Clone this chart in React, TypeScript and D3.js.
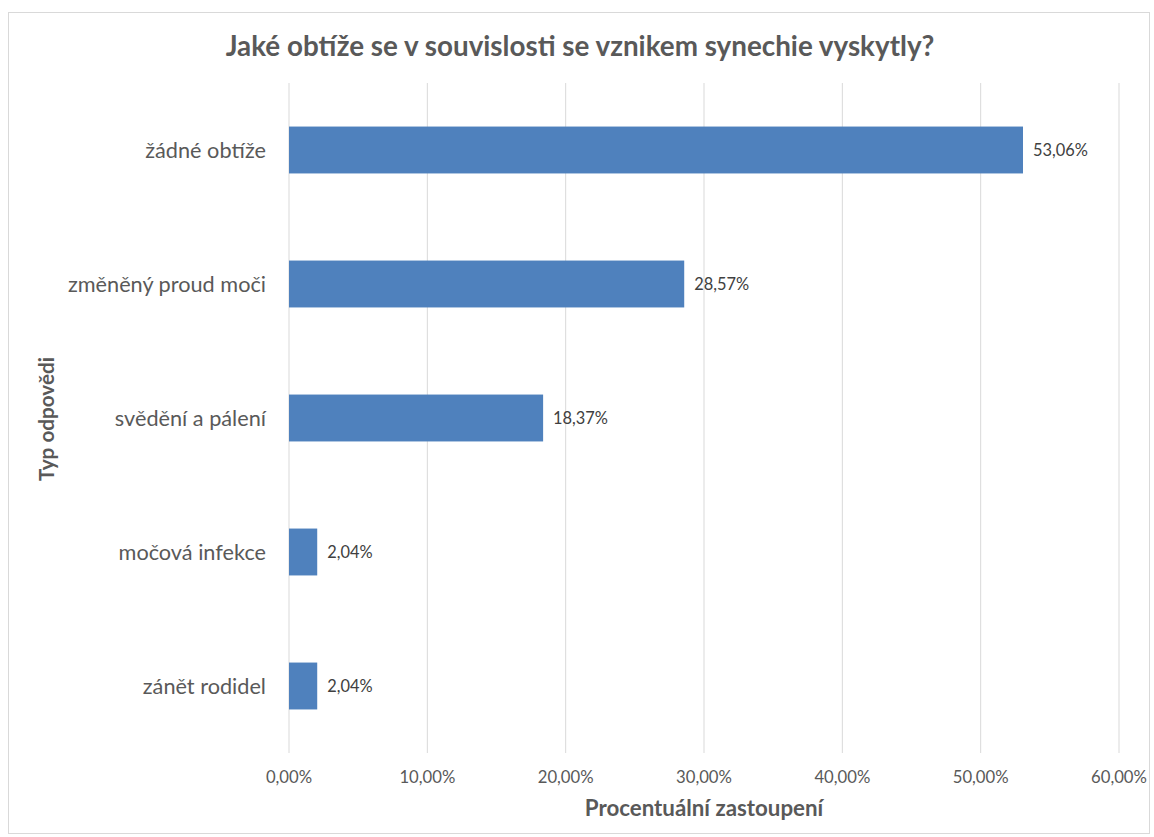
import React from "react";
import * as d3 from "d3";

const categories = ["žádné obtíže", "změněný proud moči", "svědění a pálení", "močová infekce", "zánět rodidel"];
const values = [53.06, 28.57, 18.37, 2.04, 2.04];
const ticks = [0, 10, 20, 30, 40, 50, 60];

const W = 1154, H = 837;
const FONT = "Lato, 'Open Sans', sans-serif";
const fmt = (v: number) => v.toFixed(2).replace(".", ",") + "%";

export default function App() {
  const x = d3.scaleLinear().domain([0, 60]).range([289, 1119]);
  const y = d3.scaleBand<string>().domain(categories).range([83, 753]).paddingInner(0.65).paddingOuter(0.325);
  return (
    <svg width={W} height={H} style={{ position: "absolute", left: 0, top: 0 }}>
      <rect x={0} y={0} width={W} height={H} fill="#fff" />
      <rect x={8.5} y={12.5} width={1141} height={821} fill="#fff" stroke="#d9d9d9" />
      <text x={580} y={56} textAnchor="middle" fontFamily={FONT} fontWeight="bold" fontSize={27.8} fill="#595959">
        Jaké obtíže se v souvislosti se vznikem synechie vyskytly?
      </text>
      {ticks.map((t) => (
        <g key={t}>
          <line x1={x(t)} x2={x(t)} y1={83} y2={753} stroke="#d9d9d9" strokeWidth={1} />
          <text x={x(t)} y={783} textAnchor="middle" fontFamily={FONT} fontSize={16.7} fill="#595959">
            {fmt(t)}
          </text>
        </g>
      ))}
      {categories.map((c, i) => (
        <g key={c}>
          <rect x={x(0)} y={y(c)!} width={x(values[i]) - x(0)} height={y.bandwidth()} fill="#4F81BD" />
          <text x={x(values[i]) + 10} y={y(c)! + y.bandwidth() / 2} dy="0.35em" fontFamily={FONT} fontSize={16.4} fill="#404040">
            {fmt(values[i])}
          </text>
          <text x={266} y={y(c)! + y.bandwidth() / 2} dy="0.35em" textAnchor="end" fontFamily={FONT} fontSize={21.7} fill="#595959">
            {c}
          </text>
        </g>
      ))}
      <text x={704} y={816} textAnchor="middle" fontFamily={FONT} fontWeight="bold" fontSize={22.3} fill="#595959">
        Procentuální zastoupení
      </text>
      <text transform={`translate(54,419) rotate(-90)`} textAnchor="middle" fontFamily={FONT} fontWeight="bold" fontSize={20.7} fill="#595959">
        Typ odpovědi
      </text>
    </svg>
  );
}
